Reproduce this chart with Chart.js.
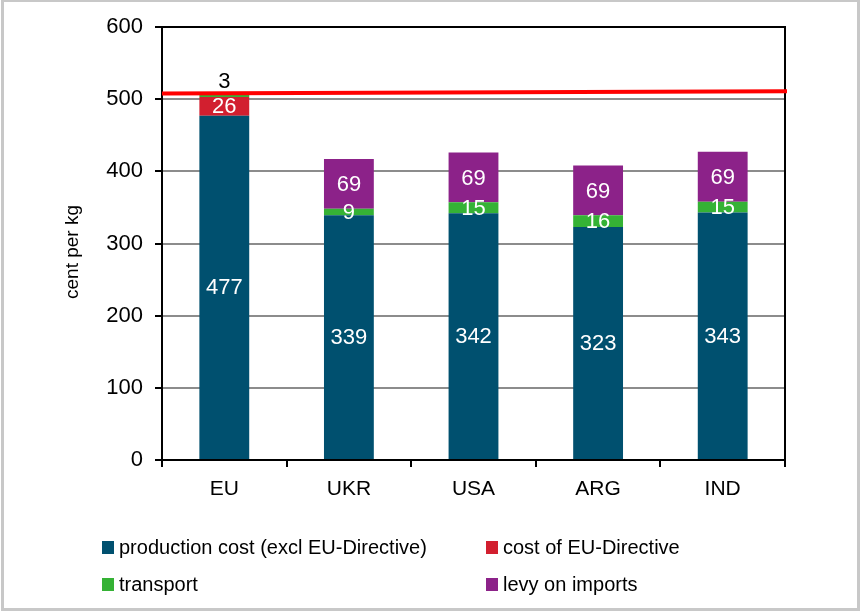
<!DOCTYPE html>
<html>
<head>
<meta charset="utf-8">
<script src="https://cdn.jsdelivr.net/npm/chart.js@4/dist/chart.umd.min.js"></script>
<style>
  html, body { margin: 0; padding: 0; background: #fff; }
  #wrap { width: 861px; height: 612px; position: relative; }
</style>
</head>
<body>
<div id="wrap"><canvas id="myChart" width="861" height="612"></canvas></div>
<script>
const categories = ["EU", "UKR", "USA", "ARG", "IND"];
const productionCost = [477, 339, 342, 323, 343];
const directiveCost = [26, 0, 0, 0, 0];
const transport = [3, 9, 15, 16, 15];
const levy = [0, 69, 69, 69, 69];
const limitStart = 508;
const limitEnd = 511;
const yTitle = "cent per kg";

const FONT = "'Liberation Sans', Arial, sans-serif";

// white labels inside segments, small ones in black above the bar
const labelPlugin = {
  id: "labels",
  afterDatasetsDraw(chart) {
    const ctx = chart.ctx;
    ctx.save();
    ctx.font = "22px " + FONT;
    ctx.textAlign = "center";
    ctx.textBaseline = "middle";
    chart.data.datasets.forEach((ds, di) => {
      const meta = chart.getDatasetMeta(di);
      meta.data.forEach((bar, i) => {
        const v = ds.data[i];
        if (!v) return;
        if (v < 5) {
          ctx.fillStyle = "#000";
          ctx.fillText(String(v), bar.x, bar.y - 13);
        } else {
          ctx.fillStyle = "#fff";
          ctx.fillText(String(v), bar.x, (bar.y + bar.base) / 2 + 1);
        }
      });
    });
    ctx.restore();
  }
};

// plot frame, red limit line, outer frame, axis title, legend
const extrasPlugin = {
  id: "extras",
  afterDraw(chart) {
    const ctx = chart.ctx;
    const a = chart.chartArea;
    const y = chart.scales.y;
    ctx.save();
    ctx.strokeStyle = "#000";
    ctx.lineWidth = 2;
    ctx.beginPath();
    ctx.moveTo(a.left, a.top);
    ctx.lineTo(a.right, a.top);
    ctx.lineTo(a.right, a.bottom);
    ctx.stroke();

    ctx.strokeStyle = "#ff0000";
    ctx.lineWidth = 4;
    ctx.beginPath();
    ctx.moveTo(a.left, y.getPixelForValue(limitStart));
    ctx.lineTo(a.right + 2, y.getPixelForValue(limitEnd));
    ctx.stroke();

    ctx.strokeStyle = "#c8c8c8";
    ctx.lineWidth = 3;
    ctx.strokeRect(2.5, 0.5, 856, 609);

    // y axis title
    ctx.save();
    ctx.translate(73, 252);
    ctx.rotate(-Math.PI / 2);
    ctx.font = "19px " + FONT;
    ctx.fillStyle = "#000";
    ctx.textAlign = "center";
    ctx.textBaseline = "middle";
    ctx.fillText(yTitle, 0, 0);
    ctx.restore();

    const items = chart.data.datasets;
    const pos = [[102, 547], [486, 547], [102, 584], [486, 584]];
    ctx.font = "20px " + FONT;
    ctx.textBaseline = "middle";
    ctx.textAlign = "left";
    items.forEach((ds, i) => {
      const p = pos[i];
      ctx.fillStyle = ds.backgroundColor;
      ctx.fillRect(p[0], p[1] - 6, 12, 13);
      ctx.fillStyle = "#000";
      ctx.fillText(ds.label, p[0] + 17, p[1] + 1);
    });
    ctx.restore();
  }
};

const barCanvas = document.getElementById("myChart");
const barChart = new Chart(barCanvas, {
  type: "bar",
  data: {
    labels: categories,
    datasets: [
      { label: "production cost (excl EU-Directive)", data: productionCost, backgroundColor: "#00506f" },
      { label: "cost of EU-Directive", data: directiveCost, backgroundColor: "#d21f2f" },
      { label: "transport", data: transport, backgroundColor: "#35b235" },
      { label: "levy on imports", data: levy, backgroundColor: "#8c2289" }
    ]
  },
  options: {
    responsive: false,
    animation: false,
    layout: {
      padding: { left: 0, top: 27, right: 76, bottom: 0 }
    },
    datasets: {
      bar: { barPercentage: 0.4, categoryPercentage: 1 }
    },
    scales: {
      x: {
        stacked: true,
        afterFit(scale) { scale.height = 152; },
        grid: { drawOnChartArea: false, tickColor: "#000", tickLength: 7, lineWidth: 2, offset: true },
        border: { color: "#000", width: 2 },
        ticks: { color: "#000", padding: 10, font: { family: FONT, size: 21 } }
      },
      y: {
        stacked: true,
        min: 0,
        max: 600,
        afterFit(scale) { scale.width = 162; },
        grid: { color: "#8c8c8c", lineWidth: 2, tickColor: "#000", tickLength: 7 },
        border: { color: "#000", width: 2 },
        ticks: { stepSize: 100, color: "#000", padding: 12, font: { family: FONT, size: 22 } }
      }
    },
    plugins: {
      legend: { display: false },
      tooltip: { enabled: false }
    }
  },
  plugins: [labelPlugin, extrasPlugin]
});
</script>
</body>
</html>
